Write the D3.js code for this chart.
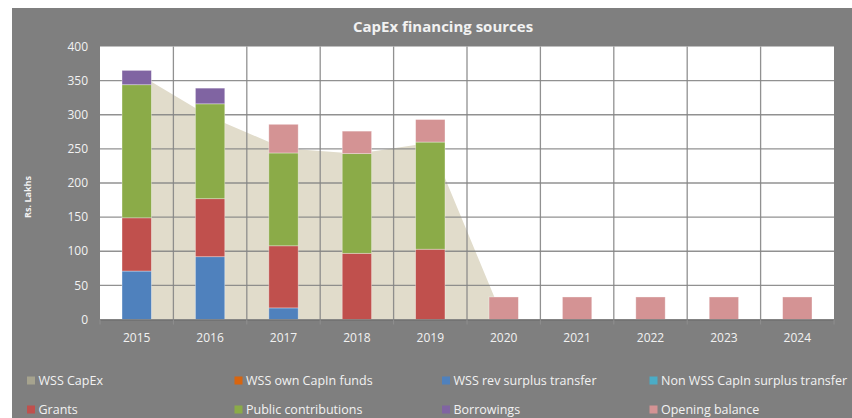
<!DOCTYPE html>
<html>
<head>
<meta charset="utf-8">
<script src="https://cdn.jsdelivr.net/npm/d3@7"></script>
<style>
  html, body { margin: 0; padding: 0; background: #fff; }
  svg { display: block; }
</style>
</head>
<body>
<script>
// 数据：年份与各融资来源（单位：Rs. Lakhs）
const years = ["2015", "2016", "2017", "2018", "2019", "2020", "2021", "2022", "2023", "2024"];
const wssCapEx        = [361, 297, 251, 243, 259, 0, 0, 0, 0, 0];
const ownCapInFunds   = [0, 0, 0, 0, 0, 0, 0, 0, 0, 0];
const revSurplus      = [71, 92, 17, 0, 0, 0, 0, 0, 0, 0];
const nonWssSurplus   = [0, 0, 0, 0, 0, 0, 0, 0, 0, 0];
const grants          = [78, 85, 91, 97, 103, 0, 0, 0, 0, 0];
const publicContrib   = [195, 139, 136, 146, 157, 0, 0, 0, 0, 0];
const borrowings      = [21, 23, 0, 0, 0, 0, 0, 0, 0, 0];
const openingBalance  = [0, 0, 42, 33, 33, 33, 33, 33, 33, 33];
const yTicks = [0, 50, 100, 150, 200, 250, 300, 350, 400];

const seriesNames = ["WSS CapEx", "WSS own CapIn funds", "WSS rev surplus transfer", "Non WSS CapIn surplus transfer",
  "Grants", "Public contributions", "Borrowings", "Opening balance"];
const seriesColors = ["#a6a38e", "#d8650f", "#4f81bd", "#4bacc6", "#c0504d", "#8bab48", "#8064a2", "#d49394"];

const width = 852, height = 418;
const plot = { left: 100, right: 834, top: 46.5, bottom: 319.5 };
const font = "'Open Sans', sans-serif";

const svg = d3.create("svg")
  .attr("width", width)
  .attr("height", height)
  .style("font-family", font);

// 图表背景
svg.append("rect").attr("x", 12).attr("y", 8).attr("width", 840).attr("height", 410).attr("fill", "#7f7f7f");
svg.append("rect").attr("x", plot.left).attr("y", plot.top)
  .attr("width", plot.right - plot.left).attr("height", plot.bottom - plot.top).attr("fill", "#fff");

const x = d3.scaleBand().domain(years).range([plot.left, plot.right]).paddingInner(0.6).paddingOuter(0.3);
const y = d3.scaleLinear().domain([0, 400]).range([plot.bottom, plot.top]);
const step = x.step();
const cx = d => x(d) + x.bandwidth() / 2;

// 面积图：WSS CapEx
const capexRows = years.map((yr, i) => ({ year: yr, v: wssCapEx[i] }));
svg.append("path")
  .datum(capexRows)
  .attr("fill", "#e1dccb")
  .attr("d", d3.area().x(d => cx(d.year)).y0(y(0)).y1(d => y(d.v)));

// 网格线
const grid = svg.append("g").attr("stroke", "#858585").attr("stroke-width", 1.3).attr("stroke-opacity", 0.9);
grid.selectAll("line.h")
  .data(yTicks.filter(t => t > 0 && t < 400))
  .join("line")
  .attr("x1", plot.left).attr("x2", plot.right)
  .attr("y1", d => y(d)).attr("y2", d => y(d));
grid.selectAll("line.v")
  .data(d3.range(1, years.length))
  .join("line")
  .attr("x1", k => plot.left + k * step).attr("x2", k => plot.left + k * step)
  .attr("y1", plot.top).attr("y2", plot.bottom);

// 堆叠柱形
const keys = ["own", "rev", "nonwss", "grants", "public", "borrow", "opening"];
const keyColors = ["#d8650f", "#4f81bd", "#4bacc6", "#c0504d", "#8bab48", "#8064a2", "#d49394"];
const rows = years.map((yr, i) => ({
  year: yr, own: ownCapInFunds[i], rev: revSurplus[i], nonwss: nonWssSurplus[i], grants: grants[i],
  public: publicContrib[i], borrow: borrowings[i], opening: openingBalance[i]
}));
const stacked = d3.stack().keys(keys)(rows);

svg.append("g")
  .selectAll("g")
  .data(stacked)
  .join("g")
  .attr("fill", (d, i) => keyColors[i])
  .selectAll("rect")
  .data(d => d.filter(s => s[1] - s[0] > 0))
  .join("rect")
  .attr("x", d => x(d.data.year))
  .attr("width", x.bandwidth())
  .attr("y", d => y(d[1]))
  .attr("height", d => y(d[0]) - y(d[1]))
  .attr("stroke", "rgba(255,255,255,0.45)")
  .attr("stroke-width", 0.75);

// 横轴
svg.append("line")
  .attr("x1", plot.left).attr("x2", plot.right)
  .attr("y1", plot.bottom + 0.5).attr("y2", plot.bottom + 0.5)
  .attr("stroke", "#6f6f6f").attr("stroke-width", 1.5);
svg.append("g").attr("stroke", "#8f8f8f")
  .selectAll("line")
  .data(d3.range(0, years.length + 1))
  .join("line")
  .attr("x1", k => plot.left + k * step).attr("x2", k => plot.left + k * step)
  .attr("y1", plot.bottom).attr("y2", plot.bottom + 5);

svg.append("g")
  .attr("fill", "#f2f2f2").attr("font-size", 12).attr("text-anchor", "middle")
  .selectAll("text")
  .data(years)
  .join("text")
  .attr("x", d => cx(d))
  .attr("y", 342)
  .text(d => d);

// 纵轴刻度
svg.append("g")
  .attr("fill", "#f2f2f2").attr("font-size", 12).attr("text-anchor", "end")
  .selectAll("text")
  .data(yTicks)
  .join("text")
  .attr("x", 88)
  .attr("y", d => y(d))
  .attr("dy", "0.35em")
  .text(d => d);

svg.append("text")
  .attr("transform", "translate(31,197) rotate(-90)")
  .attr("text-anchor", "middle")
  .attr("fill", "#f2f2f2").attr("font-size", 9).attr("font-weight", "bold")
  .text("Rs. Lakhs");

// 标题
svg.append("text")
  .attr("x", 443).attr("y", 32)
  .attr("text-anchor", "middle")
  .attr("fill", "#f2f2f2").attr("font-size", 15).attr("font-weight", "bold")
  .text("CapEx financing sources");

// 图例
const legendCols = [27, 234.5, 442, 649.5];
const legend = svg.append("g")
  .selectAll("g")
  .data(seriesNames)
  .join("g")
  .attr("transform", (d, i) => `translate(${legendCols[i % 4]},${i < 4 ? 380.5 : 409.5})`);
legend.append("rect")
  .attr("x", 0).attr("y", -4).attr("width", 8).attr("height", 8)
  .attr("fill", (d, i) => seriesColors[i]);
legend.append("text")
  .attr("x", 11.5).attr("y", 4.5)
  .attr("fill", "#f2f2f2").attr("font-size", 12.5)
  .text(d => d);

d3.select("body").append(() => svg.node());
</script>
</body>
</html>
